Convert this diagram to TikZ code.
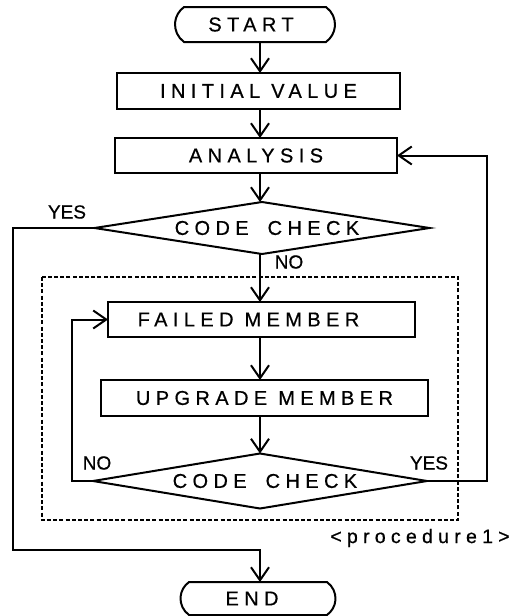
\documentclass[tikz,border=0pt]{standalone}
\usepackage{fontspec}
\setmainfont[FakeBold=0.6]{Liberation Sans}
\newfontfamily\spaced[LetterSpace=27,FakeBold=0.6]{Liberation Sans}
\usetikzlibrary{arrows.meta,shapes.misc,shapes.geometric}
\begin{document}
\begin{tikzpicture}[x=1pt,y=1pt,
  line width=2pt,
  every node/.style={inner sep=0pt,outer sep=0pt},
  boxtxt/.style={font=\spaced\fontsize{20}{20}\selectfont},
  procbox/.style={draw,rectangle,boxtxt},
  termbox/.style={draw,rounded rectangle,rounded rectangle arc length=110,boxtxt},
  decbox/.style={draw,diamond,boxtxt,aspect=6},
  arr/.style={-{Straight Barb[length=13pt,width=18pt,line width=2pt]}},
  lbl/.style={font=\fontsize{19}{19}\selectfont},
  dashbox/.style={draw,line width=1.7pt,dash pattern=on 4pt off 2.2pt}]
\useasboundingbox (0,0) rectangle (518,-616);

% arrow column
\coordinate (spine) at (260,0);

% main chain
\node[termbox,minimum width=160,minimum height=35] (start) at (255,-24.5) {START\kern8pt};
\node[procbox,minimum width=283,minimum height=36] (init) at (258.5,-91) {INITIAL VALUE};
\node[procbox,minimum width=282,minimum height=35] (analysis) at (256,-155.5) {ANALYSIS};
\node[decbox,minimum width=335,minimum height=52] (d1) at (262,-228) {};
\node[boxtxt] at (267,-228) {CODE\hspace{8pt} CHECK};

% procedure block
\draw[dashbox] (42,-277) rectangle (458,-520);
\node[procbox,minimum width=307,minimum height=35] (failed) at (261.5,-319.5) {FAILED MEMBER\kern26pt};
\node[procbox,minimum width=327,minimum height=36] (upgrade) at (264.5,-398) {UPGRADE MEMBER};
\node[decbox,minimum width=334,minimum height=55] (d2) at (260,-481) {};
\node[boxtxt] at (265,-481) {CODE\hspace{8pt} CHECK};

\node[termbox,minimum width=155,minimum height=33] (fin) at (258,-598.5) {END\kern12pt};

% labels
\node[lbl] (yes1) at (67,-212) {YES};
\node[lbl] (no1) at (289,-262) {NO};
\node[lbl] (no2) at (97,-463) {NO};
\node[lbl] (yes2) at (429,-463) {YES};
\node[font=\spaced\fontsize{19.5}{19.5}\selectfont] (proc) at (420,-538) {<procedure1>};

% connectors
\draw[arr] (start.south -| spine) -- (init.north -| spine);
\draw[arr] (init.south -| spine) -- (analysis.north -| spine);
\draw[arr] (analysis.south -| spine) -- (d1.north -| spine);
\draw[arr] (d1.south -| spine) -- (failed.north -| spine);
\draw[arr] (failed.south -| spine) -- (upgrade.north -| spine);
\draw[arr] (upgrade.south -| spine) -- (d2.north -| spine);

\coordinate (ya) at (13,-228);
\coordinate (yb) at (13,-550);
\coordinate (yc) at (260,-550);
\draw[arr] (d1.west) -- (ya) -- (yb) -- (yc) -- (fin.north -| spine);

\coordinate (na) at (72,-481);
\draw[arr] (d2.west) -- (na) |- (failed.west);

\coordinate (ra) at (487,-481);
\draw[arr] (d2.east) -- (ra) |- (analysis.east);
\end{tikzpicture}
\end{document}
